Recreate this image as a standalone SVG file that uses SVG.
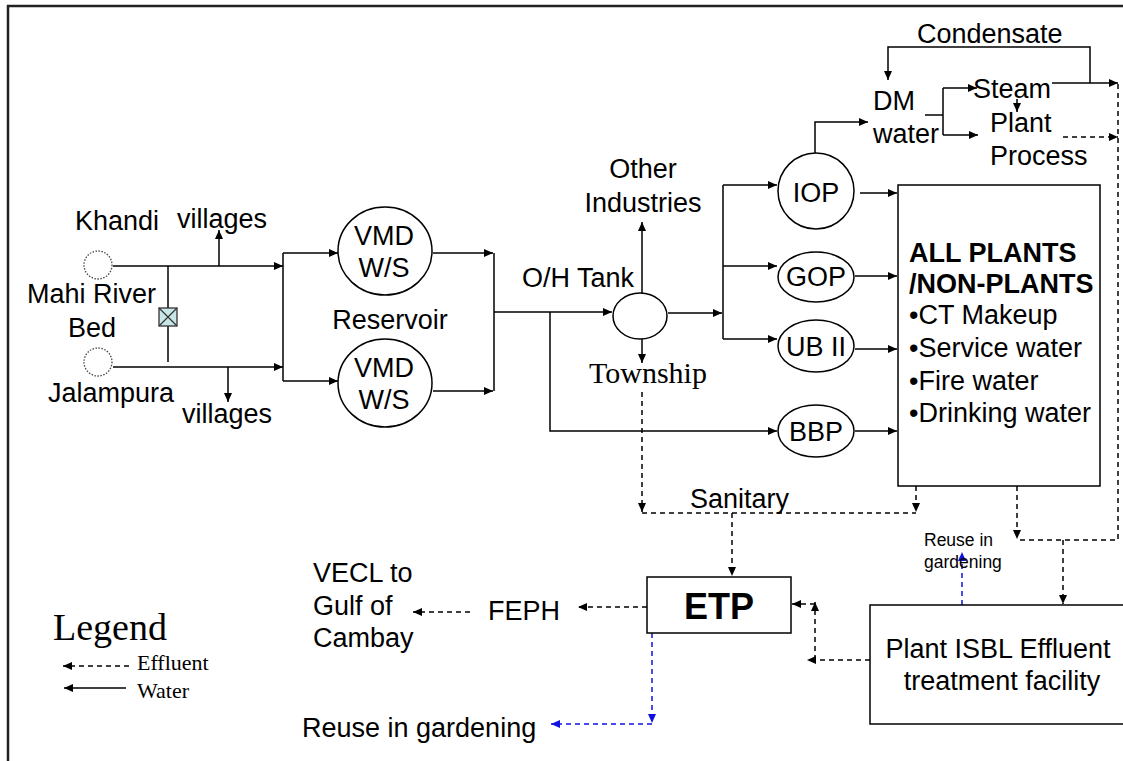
<svg xmlns="http://www.w3.org/2000/svg" width="1123" height="761" viewBox="0 0 1123 761">
<defs>
<marker id="ah" markerUnits="userSpaceOnUse" markerWidth="10" markerHeight="8" refX="9" refY="4" orient="auto"><path d="M0,0 L9,4 L0,8 z" fill="#000"/></marker>
<marker id="ahb" markerUnits="userSpaceOnUse" markerWidth="10" markerHeight="8" refX="9" refY="4" orient="auto"><path d="M0,0 L9,4 L0,8 z" fill="#1010e0"/></marker>
<style>
text{font-family:"Liberation Sans",Arial,sans-serif;font-size:27px;fill:#000}
.serif{font-family:"Liberation Serif","Times New Roman",serif}
.b{font-weight:bold}
.mid{text-anchor:middle}
.w{fill:none;stroke:#000;stroke-width:1.5}
.wa{fill:none;stroke:#000;stroke-width:1.5;marker-end:url(#ah)}
.e{fill:none;stroke:#000;stroke-width:1.5;stroke-dasharray:5,4}
.ea{fill:none;stroke:#000;stroke-width:1.5;stroke-dasharray:5,4;marker-end:url(#ah)}
.ba{fill:none;stroke:#1010e0;stroke-width:1.5;stroke-dasharray:5,4;marker-end:url(#ahb)}
.node{fill:#fff;stroke:#000;stroke-width:1.5}
.src{fill:#fff;stroke:#444;stroke-width:1.3;stroke-dasharray:1.5,1.5}
</style>
</defs>
<rect width="1123" height="761" fill="#fff"/>
<path d="M8,761 V6 H1123" fill="none" stroke="#222" stroke-width="2.5"/>

<g id="connectors">
<path class="wa" d="M113,266 H283"/>
<path class="wa" d="M113,367 H283"/>
<path class="wa" d="M219,266 V230"/>
<path class="wa" d="M228,367 V402"/>
<path class="w" d="M168,266 V362"/>
<path class="w" d="M283,253 V381"/>
<path class="wa" d="M283,253 H338"/>
<path class="wa" d="M283,381 H338"/>
<path class="wa" d="M433,253 H493"/>
<path class="wa" d="M433,391 H493"/>
<path class="w" d="M494,253 V391"/>
<path class="wa" d="M494,312 H612"/>
<path class="wa" d="M550,312 V431 H777"/>
<path class="wa" d="M642,293 V222"/>
<path class="wa" d="M642,339 V363"/>
<path class="wa" d="M668,313 H722"/>
<path class="w" d="M723,185 V339"/>
<path class="wa" d="M723,185 H777"/>
<path class="wa" d="M723,266 H777"/>
<path class="wa" d="M723,339 H777"/>
<path class="wa" d="M860,193 H897"/>
<path class="wa" d="M855,276 H897"/>
<path class="wa" d="M855,349 H897"/>
<path class="wa" d="M855,431 H897"/>
<path class="wa" d="M815,153 V122 H868"/>
<path class="w" d="M925,115 H943"/>
<path class="w" d="M943,88 V135"/>
<path class="wa" d="M943,88 H977"/>
<path class="wa" d="M943,135 H978"/>
<path class="wa" d="M1017,99 V112"/>
<path class="wa" d="M1052,83 H1118"/>
<path class="wa" d="M1090,83 V47 H888 V80"/>
<path class="ea" d="M1063,137 H1118"/>
<path class="e" d="M1118,84 V540 H1017"/>
<path class="ea" d="M1017,486 V539"/>
<path class="ea" d="M1063,540 V604"/>
<path class="ea" d="M642,392 V512"/>
<path class="ea" d="M916,486 V512"/>
<path class="e" d="M642,513 H916"/>
<path class="ea" d="M732,513 V576"/>
<path class="ea" d="M647,607 H578"/>
<path class="ea" d="M470,612 H413"/>
<path class="ea" d="M870,660 H807"/>
<path class="ea" d="M815,660 V602"/>
<path class="ea" d="M815,604 H792"/>
<path class="ba" d="M962,605 V552"/>
<path class="ba" d="M652,633 V723"/>
<path class="ba" d="M652,724 H551"/>
<path class="ea" d="M129,666 H63"/>
<path class="wa" d="M126,688 H64"/>
</g>

<g id="khandi"><circle class="src" cx="98" cy="265" r="14"/><text x="75" y="230">Khandi</text></g>
<g id="jalampura"><circle class="src" cx="98" cy="362" r="14"/><text x="48" y="402">Jalampura</text></g>
<g id="mahi"><text x="27" y="303">Mahi River</text><text x="68" y="337">Bed</text></g>
<g id="valve"><rect x="159" y="308" width="18" height="18" fill="#c8e6e6" stroke="#333" stroke-width="1.3"/><path d="M159,308 L177,326 M177,308 L159,326" stroke="#333" stroke-width="1.2"/></g>
<g id="villages1"><text x="177" y="228">villages</text></g>
<g id="villages2"><text x="182" y="423">villages</text></g>
<g id="vmd1"><ellipse class="node" cx="385" cy="251" rx="47" ry="44"/><text class="mid" x="384" y="245">VMD</text><text class="mid" x="384" y="277">W/S</text></g>
<g id="vmd2"><ellipse class="node" cx="385" cy="383" rx="47" ry="44"/><text class="mid" x="384" y="377">VMD</text><text class="mid" x="384" y="409">W/S</text></g>
<g id="reservoir"><text class="mid" x="390" y="329">Reservoir</text></g>
<g id="ohtank"><ellipse class="node" cx="640" cy="316" rx="27" ry="23"/><text x="522" y="287">O/H Tank</text></g>
<g id="other"><text class="mid" x="643" y="178">Other</text><text class="mid" x="643" y="212">Industries</text></g>
<g id="township"><text class="serif mid" x="648" y="383" style="font-size:30px">Township</text></g>
<g id="iop"><circle class="node" cx="816" cy="191" r="38"/><text class="mid" x="816" y="202">IOP</text></g>
<g id="gop"><ellipse class="node" cx="816" cy="277" rx="38" ry="25"/><text class="mid" x="816" y="286">GOP</text></g>
<g id="ub2"><ellipse class="node" cx="816" cy="346" rx="38" ry="26"/><text class="mid" x="816" y="356">UB II</text></g>
<g id="bbp"><ellipse class="node" cx="816" cy="431" rx="38" ry="26"/><text class="mid" x="816" y="441">BBP</text></g>
<g id="dmwater"><text x="873" y="110">DM</text><text x="873" y="143">water</text></g>
<g id="condensate"><text x="917" y="43">Condensate</text></g>
<g id="steam"><text x="973" y="98">Steam</text></g>
<g id="plantprocess"><text x="990" y="132">Plant</text><text x="990" y="165">Process</text></g>
<g id="allplants"><rect class="node" x="898" y="185" width="202" height="301"/>
<text class="b" x="909" y="262">ALL PLANTS</text>
<text class="b" x="909" y="293">/NON-PLANTS</text>
<text x="909" y="324">•CT Makeup</text>
<text x="909" y="357">•Service water</text>
<text x="909" y="390">•Fire water</text>
<text x="909" y="422">•Drinking water</text></g>
<g id="sanitary"><text x="690" y="508">Sanitary</text></g>
<g id="etp"><rect class="node" x="647" y="577" width="144" height="56"/><text class="b mid" x="719" y="619" style="font-size:36px">ETP</text></g>
<g id="feph"><text x="488" y="620">FEPH</text></g>
<g id="vecl"><text x="313" y="582">VECL to</text><text x="313" y="615">Gulf of</text><text x="313" y="647">Cambay</text></g>
<g id="reuse1"><text x="302" y="737">Reuse in gardening</text></g>
<g id="isbl"><rect class="node" x="870" y="605" width="262" height="119"/><text class="mid" x="998" y="658">Plant ISBL Effluent</text><text class="mid" x="1002" y="690">treatment facility</text></g>
<g id="reuse2"><text x="924" y="546" style="font-size:17.5px">Reuse in</text><text x="924" y="568" style="font-size:17.5px">gardening</text></g>
<g id="legend"><text class="serif" x="53" y="640" style="font-size:38px">Legend</text><text class="serif" x="137" y="670" style="font-size:22px">Effluent</text><text class="serif" x="137" y="698" style="font-size:22px">Water</text></g>
</svg>
